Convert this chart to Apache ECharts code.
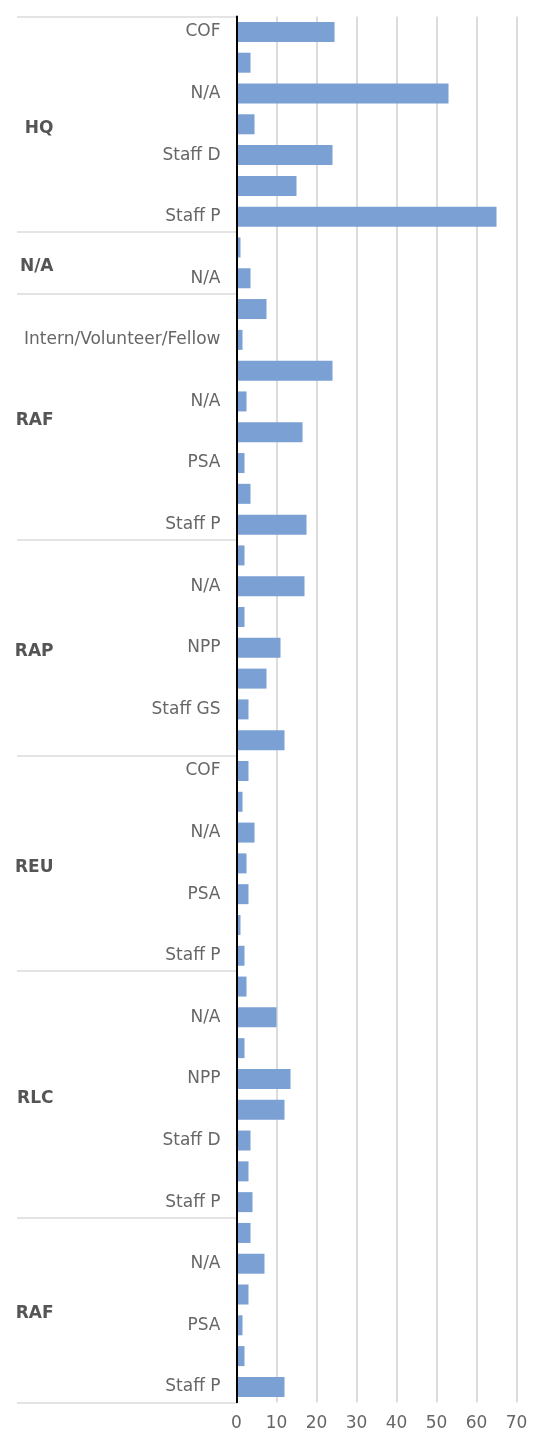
<!DOCTYPE html>
<html>
<head>
<meta charset="utf-8">
<title>Staff by office and category</title>
<script src="https://cdn.jsdelivr.net/npm/echarts@6/dist/echarts.min.js"></script>
<style>
html, body { margin: 0; padding: 0; background: #fff; }
#chart { width: 537px; height: 1434px; }
</style>
</head>
<body>
<div id="chart"></div>
<script>
// office groups, in display order (top to bottom)
const groupNames = ['HQ', 'N/A', 'RAF', 'RAP', 'REU', 'RLC', 'RAF'];

const groupRoles = [
  ['COF', 'Intern/Volunteer/Fellow', 'N/A', 'NPP', 'Staff D', 'Staff GS', 'Staff P'],
  ['COF', 'N/A'],
  ['COF', 'Intern/Volunteer/Fellow', 'JPO', 'N/A', 'NPP', 'PSA', 'Staff GS', 'Staff P'],
  ['COF', 'N/A', 'NOB', 'NPP', 'PSA', 'Staff GS', 'Staff P'],
  ['COF', 'JPO', 'N/A', 'NPP', 'PSA', 'Staff GS', 'Staff P'],
  ['COF', 'N/A', 'NOB', 'NPP', 'PSA', 'Staff D', 'Staff GS', 'Staff P'],
  ['COF', 'N/A', 'NPP', 'PSA', 'Staff GS', 'Staff P'],
];

const groupValues = [
  [24.5, 3.5, 53, 4.5, 24, 15, 65],
  [1, 3.5],
  [7.5, 1.5, 24, 2.5, 16.5, 2, 3.5, 17.5],
  [2, 17, 2, 11, 7.5, 3, 12],
  [3, 1.5, 4.5, 2.5, 3, 1, 2],
  [2.5, 10, 2, 13.5, 12, 3.5, 3, 4],
  [3.5, 7, 3, 1.5, 2, 12],
];

const xTicks = { min: 0, max: 70, step: 10 };

// flatten groups into one category list
const categories = [];
const values = [];
const bounds = [0];
const groupAt = {}; // half-slot index -> group name
groupRoles.forEach((roles, g) => {
  const start = categories.length;
  roles.forEach((r, i) => {
    categories.push(r);
    values.push(groupValues[g][i]);
  });
  bounds.push(categories.length);
  groupAt[start + categories.length] = groupNames[g];
});

// second axis: one point per half band, used for group labels and separators
const halfSlots = Array.from({ length: categories.length * 2 + 1 }, (_, i) => String(i));
const boundSet = new Set(bounds.map((b) => b * 2));

const font = 'DejaVu Sans';
const chart = echarts.init(document.getElementById('chart'));

chart.setOption({
  animation: false,
  grid: { left: 236.5, right: 20.5, top: 16.5, bottom: 31.7, outerBoundsMode: 'none' },
  xAxis: {
    type: 'value',
    min: xTicks.min,
    max: xTicks.max,
    interval: xTicks.step,
    axisLine: { show: false },
    axisTick: { show: false },
    axisLabel: { color: '#666', fontSize: 17, fontFamily: font, margin: 13 },
    splitLine: { lineStyle: { color: '#dcdcdc', width: 2 } },
  },
  yAxis: [
    {
      type: 'category',
      inverse: true,
      data: categories,
      z: 5,
      axisLine: { lineStyle: { color: '#000', width: 2 } },
      axisTick: { show: false },
      axisLabel: {
        interval: 1,
        color: '#666',
        fontSize: 17,
        fontFamily: font,
        margin: 16,
      },
    },
    {
      type: 'category',
      inverse: true,
      boundaryGap: false,
      position: 'left',
      data: halfSlots,
      axisLine: { show: false },
      axisTick: {
        interval: (i) => boundSet.has(i),
        length: 219.5,
        lineStyle: { color: '#dcdcdc', width: 1.5 },
      },
      axisLabel: {
        interval: (i) => groupAt[i] !== undefined,
        formatter: (v, i) => (groupAt[i] ? '{g|' + groupAt[i] + '}' : ''),
        align: 'right',
        margin: 183,
        rich: {
          g: {
            padding: [8, 0, 0, 0],
            color: '#555',
            fontSize: 17,
            fontWeight: 'bold',
            fontFamily: font,
          },
        },
      },
      splitLine: { show: false },
    },
  ],
  series: [
    {
      type: 'bar',
      data: values,
      barWidth: 20,
      itemStyle: { color: '#7ba0d4' },
    },
  ],
});
</script>
</body>
</html>
